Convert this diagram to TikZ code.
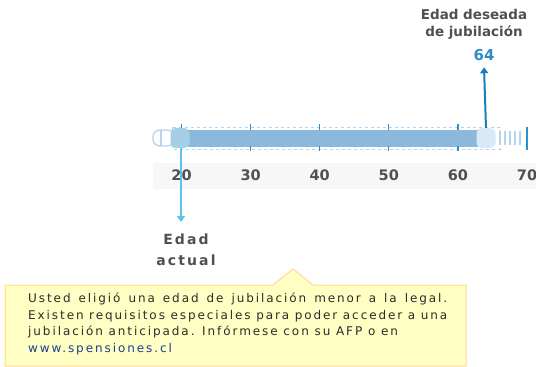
\documentclass[tikz,border=0pt]{standalone}
\usepackage{fontspec}
\setmainfont{DejaVu Sans}
\newfontfamily\boxfont[LetterSpace=16]{DejaVu Sans}
\newfontfamily\capfont[LetterSpace=15]{DejaVu Sans}
\usetikzlibrary{arrows.meta,positioning}
\definecolor{track}{HTML}{B3D4EE}
\definecolor{barfill}{HTML}{8CB8DC}
\definecolor{knobL}{HTML}{A6CEE4}
\definecolor{knobR}{HTML}{D9E9F7}
\definecolor{tickblue}{HTML}{2A90D0}
\definecolor{labgray}{HTML}{505050}
\definecolor{band}{HTML}{F6F7F7}
\definecolor{downblue}{HTML}{5BC3EE}
\definecolor{upblue}{HTML}{1B7DB9}
\definecolor{agecol}{HTML}{2D8CC6}
\definecolor{notefill}{HTML}{FFFFC4}
\definecolor{noteline}{HTML}{FFD98C}
\definecolor{linkblue}{HTML}{1C3F8E}
\definecolor{notetext}{HTML}{2B2B2B}

\begin{document}
\begin{tikzpicture}[x=1pt,y=-1pt,
		knob/.style={rounded corners=5pt,minimum width=19pt,minimum height=20pt,inner sep=0pt},
		axis/.style={font=\bfseries\fontsize{14.5}{14.5}\selectfont,text=labgray,inner sep=0pt},
		tickmark/.style={tickblue,line width=1.3pt},
		hatch/.style={track,line width=1.2pt}]
	\useasboundingbox (0,0) rectangle (536,367);
	% band behind the ages
	\fill[band] (153,163) rectangle (536,189);
	% track
	\draw[track,dashed,fill=white] (172,127) rectangle (500,149);
	\draw[track,line width=1.3pt,fill=white,rounded corners=7pt] (153,130) rectangle (174,146);
	\draw[track,line width=1.3pt] (161,130) -- (161,146);
	\fill[barfill] (176,130) rectangle (484,147);
	\foreach \xx in {500,505,510,515,520}
		\draw[hatch] (\xx,131) -- (\xx,145);
	% ticks and ages
	\foreach \v [count=\i from 0] in {20,30,40,50,60} {
		\pgfmathsetmacro\xx{181.5+69.1*\i}
		\draw[tickmark] (\xx,124) -- (\xx,130);
		\draw[tickmark] (\xx,146) -- (\xx,151);
		\node[axis] (l\v) at (\xx,175) {\v};
	}
	\draw[tickmark,line width=1.6pt] (527,127) -- (527,150);
	\node[axis] (l70) at (527,175) {70};
	% knobs
	\node[knob,fill=knobL] (k20) at (180,138) {};
	\node[knob,fill=knobR] (k64) at (486,138) {};
	% labels
	\node[font=\capfont\bfseries\fontsize{14}{21}\selectfont,text=labgray,align=center] (actual) at (186,250) {Edad\\actual};
	\node[font=\bfseries\fontsize{15}{15}\selectfont,text=agecol] (v64) at (484,55) {64};
	\node[font=\bfseries\fontsize{13.5}{17}\selectfont,text=labgray,align=center] (deseada) at (474,24) {Edad deseada\\de jubilación};
	% arrows
	\draw[downblue,line width=1.8pt,-{Triangle[width=8pt,length=6pt]}] ([xshift=1pt]k20.south) -- (181,222);
	\draw[upblue,line width=2pt,-{Triangle[width=8pt,length=6pt]}] (k64.north) -- ([yshift=-3pt]v64.south);
	% note
	\draw[noteline,fill=notefill,line width=1pt] (5,285) -- (273,285) -- (293,269) -- (313,285)
		-- (466,285) -- (466,366) -- (5,366) -- cycle;
	\node[anchor=north west,inner sep=0pt,text width=419pt,align=justify,text=notetext,
		font=\boxfont\fontsize{12}{16.5}\selectfont] (note) at (28,293)
		{Usted eligió una edad de jubilación menor a la legal.\linebreak
		Existen requisitos especiales para poder acceder a una\linebreak
		jubilación anticipada. Infórmese con su AFP o en\\
		\textcolor{linkblue}{www.spensiones.cl}};
\end{tikzpicture}
\end{document}
